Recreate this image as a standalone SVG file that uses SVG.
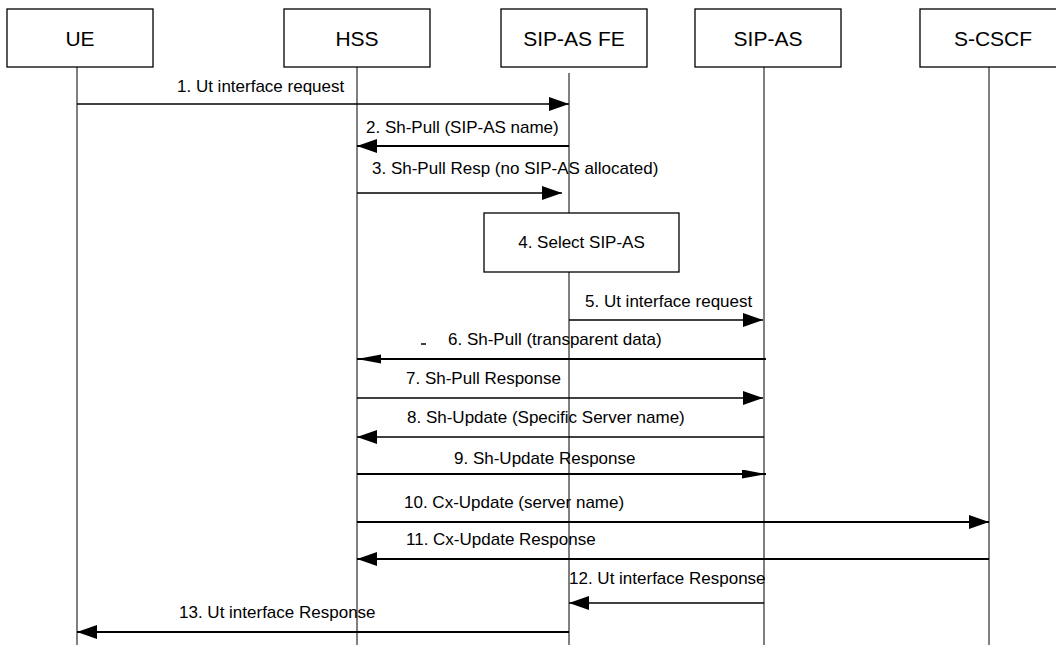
<svg xmlns="http://www.w3.org/2000/svg" width="1056" height="645" viewBox="0 0 1056 645">
<style>
.box{fill:#fff;stroke:#000;stroke-width:1.3}
.title{font-family:"Liberation Sans",Arial,sans-serif;font-size:21px;fill:#000;text-anchor:middle}
.lbl{font-family:"Liberation Sans",Arial,sans-serif;font-size:17px;fill:#000}
.life{stroke:#000;stroke-width:1;fill:none}
.msg{stroke:#000;stroke-width:1.3;fill:none;marker-end:url(#ah)}
.thick{stroke-width:2.2}
.nar{marker-end:url(#ahn)}
</style>
<defs>
<marker id="ah" markerUnits="userSpaceOnUse" markerWidth="22" markerHeight="16" refX="20" refY="7" orient="auto"><path d="M0,0 L20,7 L0,14 z" fill="#000"/></marker>
<marker id="ahn" markerUnits="userSpaceOnUse" markerWidth="26" markerHeight="12" refX="24" refY="4.5" orient="auto"><path d="M0,0 L24,4.5 L0,9 z" fill="#000"/></marker>
</defs>
<rect width="1056" height="645" fill="#fff"/>
<g id="lifelines">
<line class="life" x1="77" y1="67" x2="77" y2="645"/>
<line class="life" x1="357" y1="67" x2="357" y2="645"/>
<line class="life" x1="569" y1="73" x2="569" y2="213"/>
<line class="life" x1="569" y1="272" x2="569" y2="645"/>
<line class="life" x1="764" y1="67" x2="764" y2="645"/>
<line class="life" x1="989" y1="67" x2="989" y2="645"/>
</g>
<g id="UE"><rect class="box" x="7" y="9" width="146" height="58"/><text class="title" x="80" y="45.5">UE</text></g>
<g id="HSS"><rect class="box" x="284" y="9" width="146" height="58"/><text class="title" x="357" y="45.5">HSS</text></g>
<g id="SIP-AS-FE"><rect class="box" x="501" y="9" width="146" height="58"/><text class="title" x="574" y="45.5">SIP-AS FE</text></g>
<g id="SIP-AS"><rect class="box" x="695" y="9" width="146" height="58"/><text class="title" x="768" y="45.5">SIP-AS</text></g>
<g id="S-CSCF"><rect class="box" x="920" y="9" width="146" height="58"/><text class="title" x="993" y="45.5">S-CSCF</text></g>
<g id="select"><rect class="box" x="484" y="213" width="195" height="59"/><text class="lbl" x="581.5" y="248" text-anchor="middle">4. Select SIP-AS</text></g>
<g id="connectors">
<line class="msg" x1="77" y1="104" x2="569" y2="104"/>
<line class="msg thick" x1="569" y1="146" x2="357" y2="146"/>
<line class="msg" x1="357" y1="193" x2="562" y2="193"/>
<line class="msg" x1="569" y1="320" x2="763" y2="320"/>
<line class="msg thick nar" x1="766" y1="359" x2="357" y2="359"/>
<line class="msg" x1="357" y1="398" x2="763" y2="398"/>
<line class="msg" x1="764" y1="437" x2="357" y2="437"/>
<line class="msg thick nar" x1="357" y1="474" x2="766" y2="474"/>
<line class="msg thick" x1="357" y1="522" x2="989" y2="522"/>
<line class="msg thick" x1="989" y1="559" x2="357" y2="559"/>
<line class="msg" x1="764" y1="603" x2="569" y2="603"/>
<line class="msg thick" x1="569" y1="632" x2="77" y2="632"/>
<line x1="421" y1="344" x2="426" y2="344" stroke="#000" stroke-width="1.5"/>
</g>
<g id="labels">
<text class="lbl" x="177" y="92">1. Ut interface request</text>
<text class="lbl" x="366" y="133">2. Sh-Pull (SIP-AS name)</text>
<text class="lbl" x="372" y="174">3. Sh-Pull Resp (no SIP-AS allocated)</text>
<text class="lbl" x="585" y="307">5. Ut interface request</text>
<text class="lbl" x="448" y="345">6. Sh-Pull (transparent data)</text>
<text class="lbl" x="406" y="384">7. Sh-Pull Response</text>
<text class="lbl" x="407" y="423">8. Sh-Update (Specific Server name)</text>
<text class="lbl" x="454" y="464">9. Sh-Update Response</text>
<text class="lbl" x="404" y="508">10. Cx-Update (server name)</text>
<text class="lbl" x="406" y="545">11. Cx-Update Response</text>
<text class="lbl" x="569" y="584">12. Ut interface Response</text>
<text class="lbl" x="179" y="618">13. Ut interface Response</text>
</g>
</svg>
